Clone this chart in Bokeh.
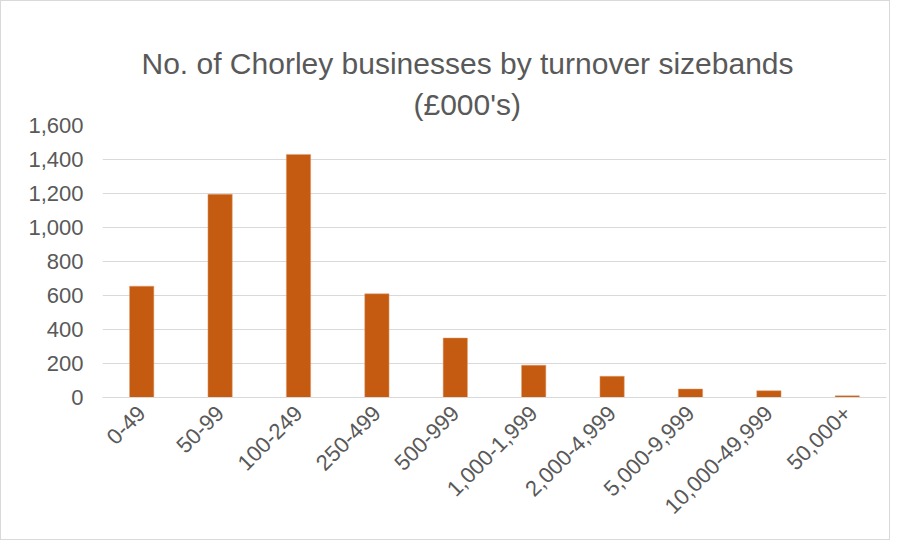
from bokeh.plotting import figure
from bokeh.models import Title, NumeralTickFormatter, FixedTicker
from bokeh.embed import file_html
from bokeh.resources import INLINE

categories = ["0-49", "50-99", "100-249", "250-499", "500-999", "1,000-1,999",
              "2,000-4,999", "5,000-9,999", "10,000-49,999", "50,000+"]
counts = [655, 1195, 1430, 610, 350, 190, 125, 50, 40, 10]
y_ticks = [0, 200, 400, 600, 800, 1000, 1200, 1400, 1600]
title_line1 = "No. of Chorley businesses by turnover sizebands"
title_line2 = "(£000's)"

FONT = "Liberation Sans"
GREY = "#595959"

p = figure(x_range=categories, y_range=(0, 1600), width=890, height=540,
           output_backend="svg", toolbar_location=None, title=None,
           min_border_left=101, min_border_right=5, min_border_top=124,
           min_border_bottom=144)

p.vbar(x=categories, top=counts, width=0.31, color="#C55A11",
       line_color="#E0A070", line_width=0.5)

p.add_layout(Title(text=title_line2, align="left", text_font=FONT,
                   text_font_size="30px", text_color=GREY, offset=311,
                   text_font_style="normal", standoff=10), "above")
p.add_layout(Title(text=title_line1, align="left", text_font=FONT,
                   text_font_size="30px", text_color=GREY, offset=39,
                   text_font_style="normal", standoff=2), "above")

p.outline_line_color = None
p.xgrid.grid_line_color = None
p.ygrid.grid_line_color = "#d9d9d9"
p.ygrid.grid_line_width = 1.2
p.yaxis.ticker = FixedTicker(ticks=y_ticks)
p.yaxis.formatter = NumeralTickFormatter(format="0,0")
p.yaxis.axis_line_color = None
p.yaxis.major_tick_line_color = None
p.yaxis.minor_tick_line_color = None
p.yaxis.major_tick_out = 0
p.yaxis.major_label_standoff = 19

p.xaxis.axis_line_color = "#d9d9d9"
p.xaxis.axis_line_width = 1.2
p.xaxis.major_tick_line_color = None
p.xaxis.major_tick_out = 0
p.xaxis.major_label_orientation = 0.785398
p.xaxis.major_label_standoff = 12

for ax in (p.xaxis, p.yaxis):
    ax.major_label_text_font = FONT
    ax.major_label_text_font_size = "22px"
    ax.major_label_text_color = GREY

p.styles = {"border": "1px solid #d9d9d9"}

open("out.html", "w").write(file_html(p, INLINE))
